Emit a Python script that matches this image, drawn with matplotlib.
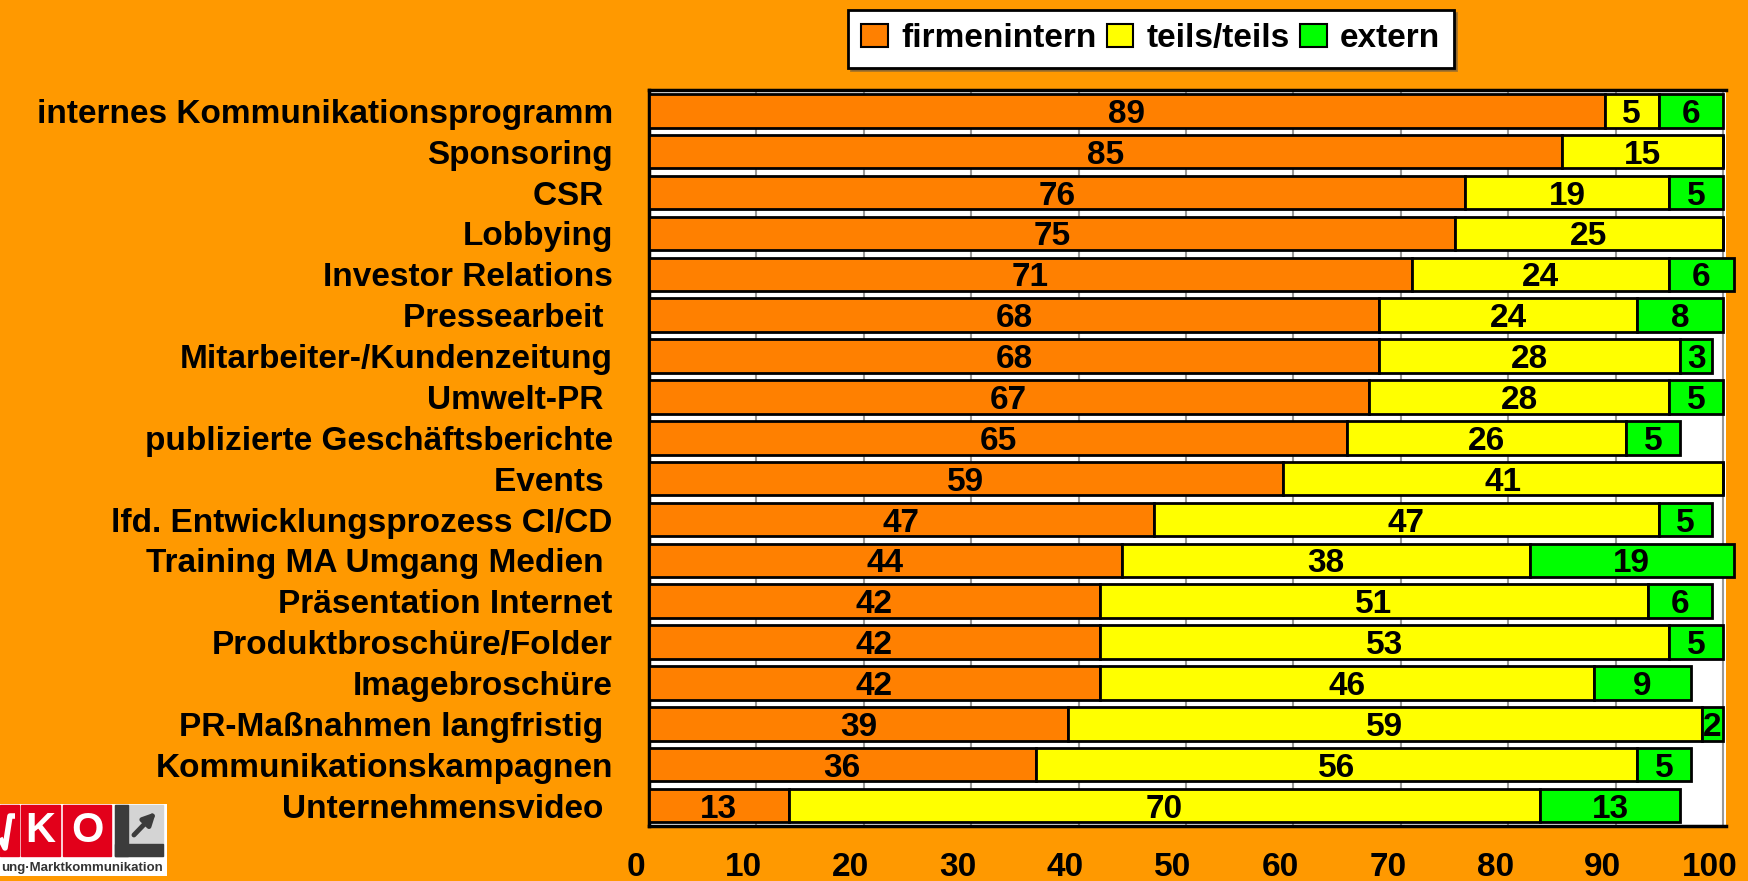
import numpy as np
import matplotlib.pyplot as plt
import matplotlib.transforms as mtransforms
from matplotlib.patches import Patch, Rectangle

plt.rcParams['font.family'] = ['Liberation Sans', 'DejaVu Sans']

# data, top to bottom as in the chart
categories = ['internes Kommunikationsprogramm', 'Sponsoring', 'CSR ', 'Lobbying',
              'Investor Relations', 'Pressearbeit ', 'Mitarbeiter-/Kundenzeitung',
              'Umwelt-PR ', 'publizierte Geschäftsberichte', 'Events ',
              'lfd. Entwicklungsprozess CI/CD', 'Training MA Umgang Medien ',
              'Präsentation Internet', 'Produktbroschüre/Folder', 'Imagebroschüre',
              'PR-Maßnahmen langfristig ', 'Kommunikationskampagnen', 'Unternehmensvideo ']
firmenintern = [89, 85, 76, 75, 71, 68, 68, 67, 65, 59, 47, 44, 42, 42, 42, 39, 36, 13]
teils = [5, 15, 19, 25, 24, 24, 28, 28, 26, 41, 47, 38, 51, 53, 46, 59, 56, 70]
extern = [6, 0, 5, 0, 6, 8, 3, 5, 5, 0, 5, 19, 6, 5, 9, 2, 5, 13]
series_names = ['firmenintern', 'teils/teils', 'extern']
colors = ['#FF8000', '#FFFF00', '#00FF00']
xticks = [0, 10, 20, 30, 40, 50, 60, 70, 80, 90, 100]

bg = '#FF9900'
fig = plt.figure(figsize=(17.49, 8.81), dpi=100, facecolor=bg)
ax = fig.add_axes([0.371, 0.0624, 0.616, 0.835])
ax.set_facecolor('white')

y = np.arange(len(categories))
left = np.zeros(len(categories))
for vals, c in zip([firmenintern, teils, extern], colors):
    vals = np.array(vals, dtype=float)
    ax.barh(y, vals, left=left, height=0.82, color=c, edgecolor='black',
            linewidth=2, clip_on=False, zorder=3)
    for yi, l, v in zip(y, left, vals):
        if v > 0:
            ax.text(l + v / 2, yi, str(int(v)), ha='center', va='center_baseline',
                    fontsize=24, fontweight='bold', zorder=4, clip_on=False)
    left = left + vals

ax.set_xlim(0, 100.3)
ax.set_ylim(len(categories) - 0.5, -0.5)
ax.set_yticks(y, categories, fontsize=24, fontweight='bold')
ax.set_xticks(xticks, [str(t) for t in xticks], fontsize=24, fontweight='bold')
ax.tick_params(axis='y', length=0, pad=26)
ax.tick_params(axis='x', length=0, pad=19)
shift = mtransforms.ScaledTranslation(-0.13, 0, fig.dpi_scale_trans)
for lab in ax.get_xticklabels():
    lab.set_transform(lab.get_transform() + shift)

ax.xaxis.grid(True, color='#999999', linewidth=1.5)
ax.set_axisbelow(True)
ax.spines['right'].set_visible(False)
for s in ['left', 'bottom', 'top']:
    ax.spines[s].set_linewidth(2.5)

handles = [Patch(facecolor=c, edgecolor='black', linewidth=1.5) for c in colors]
leg = fig.legend(handles, series_names, loc='center', bbox_to_anchor=(0.658, 0.956),
                 ncol=3, prop={'size': 24, 'weight': 'bold'}, handlelength=0.8,
                 handleheight=0.7, handletextpad=0.4, columnspacing=0.3,
                 fancybox=False, shadow=True, framealpha=1, borderpad=0.4)
leg.get_frame().set_edgecolor('black')
leg.get_frame().set_linewidth(2)

# logo at bottom left
lax = fig.add_axes([0, 0.0057, 0.0955, 0.0817])
lax.set_xlim(0, 167)
lax.set_ylim(72, 0)
lax.axis('off')
lax.add_patch(Rectangle((0, 0), 167, 72, color='white'))
lax.add_patch(Rectangle((0, 1), 19, 51, color='#E2001A'))
lax.plot([0, 5, 10, 15], [34, 44, 12, 12], color='white', lw=4, solid_capstyle='butt')
for x0, w, ch in [(21, 39, 'K'), (63, 48, 'O')]:
    lax.add_patch(Rectangle((x0, 1), w, 51, color='#E2001A'))
    lax.text(x0 + w / 2, 27, ch, color='white', fontsize=30, fontweight='bold',
             ha='center', va='center')
lax.add_patch(Rectangle((115, 1), 48, 51, color='#D4D4D4'))
lax.add_patch(Rectangle((115, 1), 13, 51, color='#3C3C3C'))
lax.add_patch(Rectangle((115, 40), 48, 12, color='#3C3C3C'))
lax.annotate('', xy=(158, 6), xytext=(132, 33),
             arrowprops=dict(arrowstyle='-|>', color='#3C3C3C', lw=3.5, mutation_scale=18))
lax.text(1, 64, 'ung·Marktkommunikation', ha='left', va='center',
         fontsize=9.5, fontweight='bold', color='#333333')

fig.savefig('out.png', dpi=100, facecolor=bg)
